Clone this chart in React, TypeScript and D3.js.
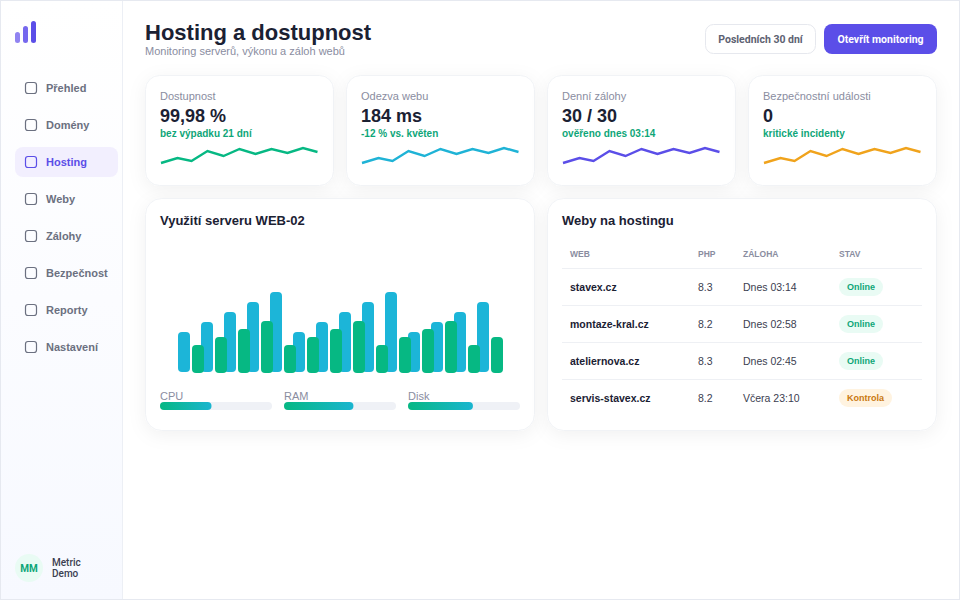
import * as d3 from 'd3';

const navItems = ['Přehled', 'Domény', 'Hosting', 'Weby', 'Zálohy', 'Bezpečnost', 'Reporty', 'Nastavení'];
const activeNav = 'Hosting';

const kpiLabels = ['Dostupnost', 'Odezva webu', 'Denní zálohy', 'Bezpečnostní události'];
const kpiValues = ['99,98 %', '184 ms', '30 / 30', '0'];
const kpiNotes = ['bez výpadku 21 dní', '-12 % vs. květen', 'ověřeno dnes 03:14', 'kritické incidenty'];
const kpiColors = ['#06b883', '#1fb3d6', '#5b4ee8', '#f0a31c'];

const sparkSteps = [0, 16.5, 30.5, 46.5, 62.5, 78.5, 94.5, 110.5, 126.5, 142, 156.5];
const sparkValues = [7, 12, 9, 19, 14, 21, 16, 21, 17, 22, 18];

const cpuLoad = [40, 50, 60, 70, 80, 40, 50, 60, 70, 80, 40, 50, 60, 70];
const ramLoad = [28, 36, 44, 52, 28, 36, 44, 52, 28, 36, 44, 52, 28, 36];

const meterLabels = ['CPU', 'RAM', 'Disk'];
const meterValues = [46, 62, 58];

const tableHead = ['WEB', 'PHP', 'ZÁLOHA', 'STAV'];
const siteNames = ['stavex.cz', 'montaze-kral.cz', 'ateliernova.cz', 'servis-stavex.cz'];
const sitePhp = ['8.3', '8.2', '8.3', '8.2'];
const siteBackups = ['Dnes 03:14', 'Dnes 02:58', 'Dnes 02:45', 'Včera 23:10'];
const siteStates = ['Online', 'Online', 'Online', 'Kontrola'];

const logoHeights = [11, 17, 22];
const logoColors = ['#9083f1', '#7668ee', '#5b4ee8'];

const SANS = '"Liberation Sans", Arial, sans-serif';
const ROBOTO = 'Roboto, sans-serif';
const INK = '#1b2133';
const MUTED = '#8a8d9f';
const GREEN_TEXT = '#0ea678';

const navY = d3.scaleLinear().domain([0, 1]).range([88, 125]);
const cardX = d3.scaleLinear().domain([0, 1]).range([145, 346]);
const sparkX = d3.scaleLinear().domain([0, 156.5]).range([0, 156.5]);
const sparkY = d3.scaleLinear().domain([0, 30]).range([170, 140]);
const sparkLine = d3.line<number>()
  .x((_, i) => sparkX(sparkSteps[i]))
  .y(d => sparkY(d));

const logoX = d3.scaleLinear().domain([0, 1]).range([15, 23]);
const barX = d3.scaleLinear().domain([0, 1]).range([178, 201]);
const loadY = d3.scaleLinear().domain([0, 100]).range([372, 272]);
const meterX = d3.scaleLinear().domain([0, 1]).range([160, 284]);
const meterW = d3.scaleLinear().domain([0, 100]).range([0, 112]);
const rowY = d3.scaleLinear().domain([0, 1]).range([268, 305]);

const App = () => (
  <svg width={960} height={600} viewBox="0 0 960 600"
    style={{ position: 'absolute', top: 0, left: 0, display: 'block', fontFamily: SANS }}>
    <defs>
      <linearGradient id="sideBg" x1="0" y1="0" x2="0" y2="1">
        <stop offset="0" stopColor="#ffffff" />
        <stop offset="1" stopColor="#f7f9ff" />
      </linearGradient>
      <linearGradient id="meterFill" x1="0" y1="0" x2="1" y2="0">
        <stop offset="0" stopColor="#06b883" />
        <stop offset="1" stopColor="#1ab5d0" />
      </linearGradient>
      <filter id="soft" x="-15%" y="-25%" width="130%" height="160%">
        <feDropShadow dx="0" dy="4" stdDeviation="9" floodColor="#1b2133" floodOpacity="0.055" />
      </filter>
    </defs>

    <rect x={0} y={0} width={960} height={600} fill="#fff" />

    {/* sidebar */}
    <rect x={1} y={1} width={122} height={598} fill="url(#sideBg)" />
    <line x1={122.5} y1={1} x2={122.5} y2={599} stroke="#eceff5" />
    {logoHeights.map((h, i) => (
      <rect key={h} x={logoX(i)} y={43 - h} width={5} height={h} rx={2.5} fill={logoColors[i]} />
    ))}

    {navItems.map((item, i) => {
      const active = item === activeNav;
      const color = active ? '#5b4ee8' : '#6b7080';
      return (
        <g key={item}>
          {active && <rect x={15} y={navY(i) - 15} width={103} height={30} rx={8} fill="#f2effe" />}
          <rect x={25.5} y={navY(i) - 5.5} width={11} height={11} rx={2.5} fill="none" stroke={color} strokeWidth={1.2} />
          <text x={46} y={navY(i) + 4} fontSize={11} fontWeight={700} fill={color}>{item}</text>
        </g>
      );
    })}

    <circle cx={29} cy={568} r={14} fill="#e9fbf4" />
    <text x={29} y={572} textAnchor="middle" fontSize={10} fontWeight={700} fill={GREEN_TEXT} fontFamily={ROBOTO}>MM</text>
    <text x={52} y={566} fontSize={10} fontWeight={500} fill="#3b4050" fontFamily={ROBOTO}>Metric</text>
    <text x={52} y={577} fontSize={10} fontWeight={500} fill="#3b4050" fontFamily={ROBOTO}>Demo</text>

    {/* header */}
    <text x={145} y={40} fontSize={22} fontWeight={700} fill={INK}>Hosting a dostupnost</text>
    <text x={145} y={55} fontSize={11} fill={MUTED}>Monitoring serverů, výkonu a záloh webů</text>
    <rect x={705.5} y={24.5} width={110} height={29} rx={8} fill="#fff" stroke="#e6e8ee" />
    <text x={760.5} y={43} textAnchor="middle" fontSize={10.5} fontWeight={700} fill="#5d6272" fontFamily={ROBOTO}>Posledních 30 dní</text>
    <rect x={824} y={24} width={113} height={30} rx={8} fill="#5b4ee8" />
    <text x={880.5} y={43} textAnchor="middle" fontSize={10.5} fontWeight={700} fill="#fff" fontFamily={ROBOTO}>Otevřít monitoring</text>

    {/* KPI cards */}
    {kpiLabels.map((label, i) => (
      <g key={label} transform={`translate(${cardX(i)},0)`}>
        <rect x={0.5} y={75.5} width={188} height={110} rx={14} fill="#fff" stroke="#f1f3f6" filter="url(#soft)" />
        <text x={15} y={100} fontSize={11} fill={MUTED}>{label}</text>
        <text x={15} y={122} fontSize={18} fontWeight={700} fill={INK}>{kpiValues[i]}</text>
        <text x={15} y={137} fontSize={10} fontWeight={700} fill={GREEN_TEXT}>{kpiNotes[i]}</text>
        <path d={sparkLine(sparkValues) ?? ''} transform="translate(16,0)" fill="none" stroke={kpiColors[i]} strokeWidth={2.4} />
      </g>
    ))}

    {/* server panel */}
    <rect x={145.5} y={198.5} width={389} height={232} rx={16} fill="#fff" stroke="#f1f3f6" filter="url(#soft)" />
    <text x={160} y={225} fontSize={13} fontWeight={700} fill={INK}>Využití serveru WEB-02</text>
    {cpuLoad.map((v, i) => (
      <rect key={`cpu-${i}`} x={barX(i)} y={loadY(v)} width={12} height={loadY(0) - loadY(v)} rx={4} fill="#1cb5d8" />
    ))}
    {ramLoad.map((v, i) => (
      <rect key={`ram-${i}`} x={barX(i) + 14} y={loadY(v) + 1} width={12} height={loadY(0) - loadY(v)} rx={4} fill="#06b883" />
    ))}
    {meterLabels.map((label, i) => (
      <g key={label} transform={`translate(${meterX(i)},0)`}>
        <text x={0} y={400} fontSize={11} fill={MUTED}>{label}</text>
        <rect x={0} y={402} width={meterW(100)} height={8} rx={4} fill="#eff1f6" />
        <rect x={0} y={402} width={meterW(meterValues[i])} height={8} rx={4} fill="url(#meterFill)" />
      </g>
    ))}

    {/* hosting table */}
    <rect x={547.5} y={198.5} width={389} height={232} rx={16} fill="#fff" stroke="#f1f3f6" filter="url(#soft)" />
    <text x={562} y={225} fontSize={13} fontWeight={700} fill={INK}>Weby na hostingu</text>
    {tableHead.map((h, i) => (
      <text key={h} x={[570, 698, 743, 839][i]} y={257} fontSize={8.5} fontWeight={700} fill={MUTED}>{h}</text>
    ))}
    {siteNames.map((name, i) => {
      const ok = siteStates[i] === 'Online';
      return (
        <g key={name}>
          <line x1={562} x2={922} y1={rowY(i) + 0.5} y2={rowY(i) + 0.5} stroke="#eef0f4" />
          <text x={570} y={rowY(i) + 23} fontSize={10.5} fontWeight={700} fill={INK}>{name}</text>
          <text x={698} y={rowY(i) + 23} fontSize={10.5} fill="#3b4050">{sitePhp[i]}</text>
          <text x={743} y={rowY(i) + 23} fontSize={10.5} fill="#3b4050">{siteBackups[i]}</text>
          <rect x={839} y={rowY(i) + 10} width={ok ? 44 : 53} height={18} rx={9} fill={ok ? '#e9fbf4' : '#fff3e0'} />
          <text x={847} y={rowY(i) + 22} fontSize={9} fontWeight={700} fill={ok ? GREEN_TEXT : '#c9770f'}>{siteStates[i]}</text>
        </g>
      );
    })}

    <rect x={0.5} y={0.5} width={959} height={599} fill="none" stroke="#e6e9f0" />
  </svg>
);

export default App;
